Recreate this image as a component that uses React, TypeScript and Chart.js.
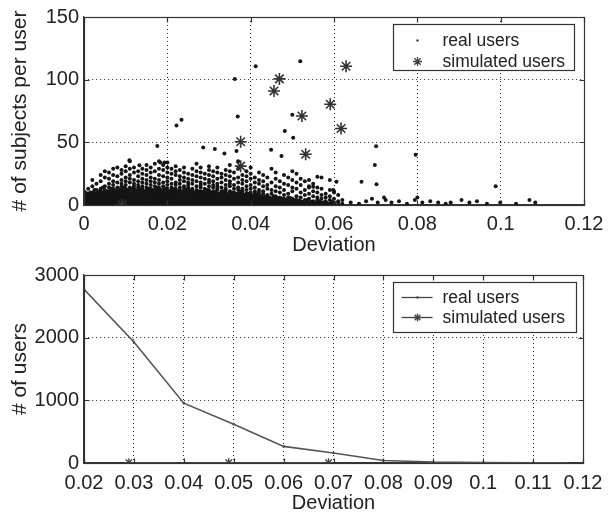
import React, { useEffect, useRef } from "react";
import { Chart, registerables } from "chart.js";

Chart.register(...registerables);

// ---------- Top chart data ----------
const topXTicks = [0, 0.02, 0.04, 0.06, 0.08, 0.1, 0.12];
const topYTicks = [0, 50, 100, 150];

// dense cloud of real users: [deviation, list of "# of subjects per user" values]
const realUsersColumns: [number, number[]][] = [
  [0.000, [0, 1, 2, 3, 4, 5, 6, 8, 11]],
  [0.001, [0, 1, 2, 3, 5, 6, 7, 9, 13]],
  [0.002, [0, 1, 3, 4, 5, 7, 8, 10, 15, 20]],
  [0.003, [0, 1, 2, 4, 5, 6, 8, 9, 12, 17]],
  [0.004, [0, 2, 3, 4, 6, 7, 9, 11, 13, 19, 24]],
  [0.005, [0, 1, 3, 4, 5, 7, 8, 10, 12, 15, 22, 27]],
  [0.006, [0, 1, 2, 4, 6, 7, 9, 11, 14, 17, 21, 26]],
  [0.007, [0, 2, 3, 5, 6, 8, 10, 12, 13, 16, 19, 24, 29]],
  [0.008, [0, 1, 3, 4, 6, 7, 9, 11, 14, 18, 23, 30]],
  [0.009, [0, 1, 2, 4, 5, 7, 8, 10, 12, 15, 17, 20, 25, 28]],
  [0.010, [0, 2, 3, 5, 6, 8, 9, 11, 13, 16, 19, 22, 27, 31]],
  [0.011, [0, 1, 3, 4, 6, 7, 9, 12, 14, 18, 21, 24, 29, 35]],
  [0.012, [0, 1, 2, 4, 5, 7, 10, 11, 13, 15, 17, 20, 26, 30]],
  [0.013, [0, 2, 3, 5, 6, 8, 9, 12, 14, 16, 19, 23, 27]],
  [0.014, [0, 1, 3, 4, 6, 7, 10, 11, 13, 15, 18, 21, 25, 29]],
  [0.015, [0, 1, 2, 4, 5, 8, 9, 12, 14, 17, 20, 24, 28, 32]],
  [0.016, [0, 2, 3, 5, 6, 7, 10, 11, 13, 16, 19, 22, 26, 30]],
  [0.017, [0, 1, 3, 4, 6, 8, 9, 12, 15, 18, 21, 27, 33]],
  [0.018, [0, 1, 2, 4, 5, 7, 8, 11, 13, 14, 17, 20, 24, 29, 35]],
  [0.019, [0, 2, 3, 5, 6, 8, 10, 12, 15, 18, 23, 28, 32]],
  [0.020, [0, 1, 3, 4, 6, 7, 9, 11, 13, 16, 19, 22, 26, 30, 34]],
  [0.021, [0, 1, 2, 4, 5, 7, 9, 10, 12, 14, 17, 21, 25, 29]],
  [0.022, [0, 2, 3, 5, 6, 8, 10, 11, 13, 16, 18, 24, 27, 31]],
  [0.023, [0, 1, 3, 4, 6, 7, 9, 12, 14, 17, 20, 23, 28]],
  [0.024, [0, 1, 2, 4, 5, 8, 9, 11, 13, 15, 19, 22, 26, 30]],
  [0.025, [0, 2, 3, 5, 6, 7, 10, 12, 14, 16, 18, 21, 25]],
  [0.026, [0, 1, 3, 4, 6, 8, 9, 11, 13, 17, 20, 24, 29]],
  [0.027, [0, 1, 2, 4, 5, 7, 8, 10, 12, 15, 19, 23, 27, 33]],
  [0.028, [0, 2, 3, 5, 6, 8, 10, 11, 14, 16, 18, 22, 26, 30]],
  [0.029, [0, 1, 3, 4, 6, 7, 9, 12, 13, 17, 21, 25]],
  [0.030, [0, 1, 2, 4, 5, 7, 9, 10, 12, 15, 18, 20, 24, 28, 31]],
  [0.031, [0, 2, 3, 5, 6, 8, 10, 11, 14, 16, 19, 23, 27]],
  [0.032, [0, 1, 3, 4, 6, 7, 9, 12, 13, 15, 17, 21, 26, 30]],
  [0.033, [0, 1, 2, 4, 5, 8, 9, 11, 14, 18, 22, 25]],
  [0.034, [0, 2, 3, 5, 6, 7, 10, 12, 13, 16, 20, 24, 28]],
  [0.035, [0, 1, 3, 4, 6, 8, 9, 11, 15, 17, 19, 23, 27, 32]],
  [0.036, [0, 1, 2, 4, 5, 7, 8, 10, 13, 16, 21, 26]],
  [0.037, [0, 2, 3, 5, 6, 8, 9, 12, 14, 18, 22, 29, 35]],
  [0.038, [0, 1, 3, 4, 6, 7, 10, 11, 13, 17, 20, 24]],
  [0.039, [0, 1, 2, 4, 5, 7, 9, 12, 15, 19, 23, 27]],
  [0.040, [0, 2, 3, 5, 6, 8, 10, 13, 16, 21, 25, 30]],
  [0.041, [0, 1, 3, 4, 6, 7, 9, 11, 14, 18, 22]],
  [0.042, [0, 1, 2, 4, 5, 8, 10, 12, 17, 20, 26]],
  [0.043, [0, 2, 3, 5, 6, 9, 11, 15, 19, 24]],
  [0.044, [0, 1, 3, 4, 7, 8, 13, 16, 22]],
  [0.045, [0, 1, 2, 4, 5, 9, 12, 18, 29]],
  [0.046, [0, 2, 3, 5, 7, 11, 15, 21, 26]],
  [0.047, [0, 1, 3, 4, 6, 10, 14, 19]],
  [0.048, [0, 1, 2, 5, 8, 12, 17, 24]],
  [0.049, [0, 2, 3, 6, 9, 16, 22]],
  [0.050, [0, 1, 3, 5, 11, 14, 20, 27]],
  [0.051, [0, 1, 2, 4, 7, 13, 18, 25]],
  [0.052, [0, 2, 3, 6, 10, 16, 21]],
  [0.053, [0, 1, 4, 8, 12, 19]],
  [0.054, [0, 1, 2, 5, 9, 15, 20]],
  [0.055, [0, 2, 3, 7, 11, 17]],
  [0.056, [0, 1, 4, 6, 10, 14]],
  [0.057, [0, 1, 2, 5, 8, 13, 22]],
  [0.058, [0, 2, 3, 6, 9]],
  [0.059, [0, 1, 4, 7, 12, 20]],
  [0.060, [0, 1, 2, 5, 10, 11]],
  [0.061, [0, 2, 3, 8]],
  [0.062, [0, 1, 4]],
];

// the nearly solid band of real users close to zero
const realUsersBand: [number, number[]][] = [
  [0.0005, [0.5, 2, 3.5, 5, 7, 9.5]],
  [0.0015, [0.5, 2.5, 4, 6, 8, 10]],
  [0.0025, [1, 2, 3.5, 5.5, 7, 9, 12]],
  [0.0035, [0.5, 2, 3.5, 5, 6.5, 8, 10.5]],
  [0.0045, [1, 2.5, 4, 5.5, 8, 10, 14]],
  [0.0055, [0.5, 2, 3.5, 6, 7.5, 9.5, 11]],
  [0.0065, [1, 2.5, 4, 5, 6.5, 8.5, 10, 13]],
  [0.0075, [0.5, 2, 3.5, 5.5, 7, 9, 11.5]],
  [0.0085, [1, 2.5, 4, 6, 8, 10, 12.5]],
  [0.0095, [0.5, 2, 3.5, 5, 6.5, 8.5, 11, 14]],
  [0.0105, [1, 2.5, 4, 5.5, 7.5, 9, 10.5, 12]],
  [0.0115, [0.5, 2, 3.5, 5, 6.5, 8, 10, 13]],
  [0.0125, [1, 2.5, 4, 6, 7.5, 9, 11.5]],
  [0.0135, [0.5, 2, 3.5, 5.5, 7, 8.5, 10.5, 12.5]],
  [0.0145, [1, 2.5, 4, 5, 6.5, 8, 9.5, 11]],
  [0.0155, [0.5, 2, 3.5, 5.5, 7, 9, 10.5, 13]],
  [0.0165, [1, 2.5, 4, 6, 7.5, 8.5, 10, 12]],
  [0.0175, [0.5, 2, 3.5, 5, 6.5, 8, 9.5, 11.5, 14]],
  [0.0185, [1, 2.5, 4, 5.5, 7, 9, 10.5, 12]],
  [0.0195, [0.5, 2, 3.5, 5, 6.5, 8, 10, 13]],
  [0.0205, [1, 2.5, 4, 6, 7.5, 9, 11]],
  [0.0215, [0.5, 2, 3.5, 5.5, 7, 8.5, 10, 12.5]],
  [0.0225, [1, 2.5, 4, 5, 6.5, 8, 9.5, 11]],
  [0.0235, [0.5, 2, 3.5, 5.5, 7, 9, 10.5]],
  [0.0245, [1, 2.5, 4, 6, 7.5, 8.5, 10, 12]],
  [0.0255, [0.5, 2, 3.5, 5, 6.5, 8, 9.5, 11.5]],
  [0.0265, [1, 2.5, 4, 5.5, 7, 8.5, 10]],
  [0.0275, [0.5, 2, 3.5, 5, 6.5, 8, 9.5, 11]],
  [0.0285, [1, 2.5, 4, 6, 7.5, 9, 10.5]],
  [0.0295, [0.5, 2, 3.5, 5.5, 7, 8, 9.5, 12]],
  [0.0305, [1, 2.5, 4, 5, 6.5, 8, 10]],
  [0.0315, [0.5, 2, 3.5, 5.5, 7, 8.5, 10.5]],
  [0.0325, [1, 2.5, 4, 6, 7.5, 9]],
  [0.0335, [0.5, 2, 3.5, 5, 6.5, 8, 9.5, 11]],
  [0.0345, [1, 2.5, 4, 5.5, 7, 8.5]],
  [0.0355, [0.5, 2, 3.5, 5, 6.5, 8, 10]],
  [0.0365, [1, 2.5, 4, 6, 7.5, 9]],
  [0.0375, [0.5, 2, 3.5, 5.5, 7, 8.5, 10.5]],
  [0.0385, [1, 2.5, 4, 5, 6.5, 8]],
  [0.0395, [0.5, 2, 3.5, 5.5, 7, 9]],
  [0.0405, [1, 2.5, 4, 6, 7.5]],
  [0.0415, [0.5, 2, 3.5, 5, 6.5, 8.5]],
  [0.0425, [1, 2.5, 4, 5.5, 7]],
  [0.0435, [0.5, 2, 3.5, 5, 6.5]],
  [0.0445, [1, 2.5, 4, 6]],
  [0.0455, [0.5, 2, 3.5, 5, 7]],
  [0.0465, [1, 2.5, 4, 5.5]],
  [0.0475, [0.5, 2, 3.5, 5]],
  [0.0485, [1, 2.5, 4]],
  [0.0495, [0.5, 2, 3.5, 5.5]],
  [0.0505, [1, 2.5, 4]],
  [0.0515, [0.5, 2, 3.5]],
  [0.0525, [1, 2.5]],
  [0.0535, [0.5, 2, 4]],
  [0.0545, [1, 2.5]],
  [0.0555, [0.5, 2]],
  [0.0565, [1, 3]],
  [0.0575, [0.5, 2]],
  [0.0585, [1]],
  [0.0595, [0.5, 2.5]],
];

// scattered real users (outliers and the long tail)
const realUsersSparse: [number, number][] = [
  [0.0109, 35.7], [0.0133, 31.7], [0.0176, 47], [0.0183, 34], [0.0193, 34],
  [0.0222, 63.5], [0.0234, 68], [0.0286, 45.8], [0.0314, 44.7], [0.0337, 41],
  [0.0362, 100.5], [0.0366, 43], [0.0369, 70.6], [0.0412, 110.7], [0.0449, 44],
  [0.0474, 39], [0.0482, 59], [0.05, 72], [0.0502, 53.7], [0.0519, 114.7],
  [0.054, 14], [0.055, 14.5], [0.056, 22.5], [0.0598, 12], [0.0606, 18.5],
  [0.0666, 18.5], [0.0698, 32], [0.0701, 46.8], [0.0702, 16.5], [0.0796, 40],
  [0.0988, 15],
  [0.0677, 3], [0.0691, 5], [0.0705, 2], [0.0724, 4], [0.0738, 2], [0.0756, 3],
  [0.0775, 1], [0.0794, 4], [0.0812, 2], [0.0831, 3], [0.085, 2], [0.0868, 1],
  [0.0906, 4], [0.0925, 2], [0.0943, 3], [0.0967, 1], [0.0999, 2], [0.1037, 1],
  [0.1069, 4], [0.1083, 2], [0.064, 2], [0.066, 1], [0.072, 6], [0.08, 6], [0.088, 2],
];

const simulatedUsersTop: [number, number][] = [
  [0.0091, 0], [0.0376, 31], [0.0376, 50.5], [0.0456, 91], [0.0469, 100.6],
  [0.0523, 71], [0.0532, 40.5], [0.0591, 80.4], [0.0617, 61], [0.0629, 110.7],
];

// ---------- Bottom chart data ----------
const bottomXTicks = [0.02, 0.03, 0.04, 0.05, 0.06, 0.07, 0.08, 0.09, 0.1, 0.11, 0.12];
const bottomYTicks = [0, 1000, 2000, 3000];

const histDeviation = [0.02, 0.03, 0.04, 0.05, 0.06, 0.07, 0.08, 0.09, 0.1, 0.11, 0.117];
const histRealUsers = [2770, 1930, 955, 620, 265, 160, 40, 15, 8, 3, 1];
const histSimulatedDeviation = [0.029, 0.049, 0.069];
const histSimulatedUsers = [5, 5, 5];

const FONT = "'Liberation Sans', Arial, Helvetica, sans-serif";
const INK = "#222";
const FRAME = "#333";

type LegendItem = { label: string; marker: "dot" | "star"; line: boolean };

function drawStar(ctx: CanvasRenderingContext2D, x: number, y: number, r: number) {
  const d = r * Math.SQRT1_2;
  ctx.beginPath();
  ctx.moveTo(x - r, y); ctx.lineTo(x + r, y);
  ctx.moveTo(x, y - r); ctx.lineTo(x, y + r);
  ctx.moveTo(x - d, y - d); ctx.lineTo(x + d, y + d);
  ctx.moveTo(x - d, y + d); ctx.lineTo(x + d, y - d);
  ctx.stroke();
}

function makeFramePlugin(id: string) {
  return {
    id,
    afterDatasetsDraw(chart: any) {
      const { ctx, chartArea: a, scales } = chart;
      ctx.save();
      ctx.strokeStyle = FRAME;
      ctx.lineWidth = 1.2;
      const L = Math.round(a.left) + 0.5;
      const T = Math.round(a.top) + 0.5;
      const R = Math.round(a.right) + 0.5;
      const B = Math.round(a.bottom) + 0.5;
      ctx.strokeRect(L, T, R - L, B - T);
      const tl = 5;
      ctx.beginPath();
      for (const t of scales.x.ticks) {
        const px = Math.round(scales.x.getPixelForValue(t.value)) + 0.5;
        ctx.moveTo(px, T); ctx.lineTo(px, T + tl);
        ctx.moveTo(px, B); ctx.lineTo(px, B - tl);
      }
      for (const t of scales.y.ticks) {
        const py = Math.round(scales.y.getPixelForValue(t.value)) + 0.5;
        ctx.moveTo(L, py); ctx.lineTo(L + tl, py);
        ctx.moveTo(R, py); ctx.lineTo(R - tl, py);
      }
      ctx.stroke();
      ctx.restore();
    },
  };
}

function makeLegendPlugin(id: string, items: LegendItem[], box: { rightGap: number; topGap: number; w: number; h: number; rows: number[] }, starR: number) {
  return {
    id,
    afterDraw(chart: any) {
      const { ctx, chartArea: a } = chart;
      const left = Math.round(a.right - box.rightGap - box.w) + 0.5;
      const top = Math.round(a.top + box.topGap) + 0.5;
      ctx.save();
      ctx.fillStyle = "#fff";
      ctx.fillRect(left, top, box.w, box.h);
      ctx.strokeStyle = FRAME;
      ctx.lineWidth = 1.2;
      ctx.strokeRect(left, top, box.w, box.h);
      ctx.font = `17.5px ${FONT}`;
      ctx.textBaseline = "middle";
      ctx.textAlign = "left";
      items.forEach((it, i) => {
        const y = top + box.rows[i];
        const mx = left + 24;
        ctx.strokeStyle = "#444";
        ctx.fillStyle = "#444";
        ctx.lineWidth = 1.3;
        if (it.line) {
          ctx.beginPath();
          ctx.moveTo(left + 8, y);
          ctx.lineTo(left + 39, y);
          ctx.stroke();
        }
        if (it.marker === "dot") {
          ctx.beginPath();
          ctx.arc(mx, y, 1.2, 0, Math.PI * 2);
          ctx.fill();
        } else {
          drawStar(ctx, mx, y, starR);
        }
        ctx.fillStyle = INK;
        ctx.fillText(it.label, left + 49, y + 1);
      });
      ctx.restore();
    },
  };
}

function axisCommon() {
  return {
    grid: { color: "#222", lineWidth: 1, drawTicks: false },
    border: { display: true, color: FRAME, width: 1.2, dash: [1, 3] },
  };
}

function fmt(v: any) {
  return String(+Number(v).toFixed(2));
}

function buildTop(canvas: HTMLCanvasElement) {
  const toPoints = (cols: [number, number[]][]) => cols.flatMap(([x, ys]) => ys.map((y) => ({ x, y })));
  const realPoints = toPoints(realUsersColumns)
    .concat(toPoints(realUsersBand))
    .concat(realUsersSparse.map(([x, y]) => ({ x, y })));
  const simPoints = simulatedUsersTop.map(([x, y]) => ({ x, y }));
  return new Chart(canvas, {
    type: "scatter",
    data: {
      datasets: [
        {
          label: "real users",
          data: realPoints,
          pointStyle: "circle",
          pointRadius: 2,
          pointBorderWidth: 0,
          backgroundColor: "#151515",
          borderColor: "#151515",
          order: 2,
        },
        {
          label: "simulated users",
          data: simPoints,
          pointStyle: "star",
          pointRadius: 6,
          pointBorderWidth: 1.6,
          borderColor: "#333",
          backgroundColor: "#333",
          order: 1,
        },
      ],
    },
    options: {
      responsive: false,
      animation: false,
      events: [],
      layout: { padding: { top: 16, right: 30, left: 0, bottom: 0 } },
      plugins: { legend: { display: false }, tooltip: { enabled: false } },
      scales: {
        x: {
          type: "linear",
          min: 0,
          max: 0.12,
          ...axisCommon(),
          afterBuildTicks: (s: any) => { s.ticks = topXTicks.map((value) => ({ value })); },
          afterFit: (s: any) => { s.height = 53; },
          ticks: { autoSkip: false, maxRotation: 0, padding: 7, color: INK, font: { size: 20, family: FONT }, callback: fmt },
          title: { display: true, text: "Deviation", color: INK, font: { size: 20, family: FONT }, padding: { top: 0, bottom: 1 } },
        },
        y: {
          type: "linear",
          min: 0,
          max: 150,
          ...axisCommon(),
          afterBuildTicks: (s: any) => { s.ticks = topYTicks.map((value) => ({ value })); },
          afterFit: (s: any) => { s.width = 84; },
          ticks: { autoSkip: false, padding: 5, color: INK, font: { size: 20, family: FONT }, callback: fmt },
          title: { display: true, text: "# of subjects per user", color: INK, font: { size: 21, family: FONT }, padding: { top: 7.4, bottom: 0 } },
        },
      },
    },
    plugins: [
      makeFramePlugin("frameTop"),
      makeLegendPlugin(
        "legendTop",
        [
          { label: "real users", marker: "dot", line: false },
          { label: "simulated users", marker: "star", line: false },
        ],
        { rightGap: 10, topGap: 7, w: 181, h: 46, rows: [16, 37] },
        4.5
      ),
    ],
  } as any);
}

function buildBottom(canvas: HTMLCanvasElement) {
  const realPoints = histDeviation.map((x, i) => ({ x, y: histRealUsers[i] }));
  const simPoints = histSimulatedDeviation.map((x, i) => ({ x, y: histSimulatedUsers[i] }));
  return new Chart(canvas, {
    type: "scatter",
    data: {
      datasets: [
        {
          label: "real users",
          data: realPoints,
          showLine: true,
          borderColor: "#555",
          borderWidth: 1.6,
          pointStyle: "circle",
          pointRadius: 1.3,
          pointBorderWidth: 0,
          backgroundColor: "#555",
          order: 2,
        },
        {
          label: "simulated users",
          data: simPoints,
          showLine: true,
          borderColor: "#444",
          borderWidth: 1.2,
          pointStyle: "star",
          pointRadius: 4.5,
          pointBorderWidth: 1.4,
          backgroundColor: "#444",
          order: 1,
        },
      ],
    },
    options: {
      responsive: false,
      animation: false,
      events: [],
      layout: { padding: { top: 17, right: 31, left: 0, bottom: 0 } },
      plugins: { legend: { display: false }, tooltip: { enabled: false } },
      scales: {
        x: {
          type: "linear",
          min: 0.02,
          max: 0.12,
          ...axisCommon(),
          afterBuildTicks: (s: any) => { s.ticks = bottomXTicks.map((value) => ({ value })); },
          afterFit: (s: any) => { s.height = 52; },
          ticks: { autoSkip: false, maxRotation: 0, padding: 8, color: INK, font: { size: 20, family: FONT }, callback: fmt },
          title: { display: true, text: "Deviation", color: INK, font: { size: 20, family: FONT }, padding: { top: 0, bottom: 0 } },
        },
        y: {
          type: "linear",
          min: 0,
          max: 3000,
          ...axisCommon(),
          afterBuildTicks: (s: any) => { s.ticks = bottomYTicks.map((value) => ({ value })); },
          afterFit: (s: any) => { s.width = 84; },
          ticks: { autoSkip: false, padding: 5, color: INK, font: { size: 20, family: FONT }, callback: fmt },
          title: { display: true, text: "# of users", color: INK, font: { size: 21, family: FONT }, padding: { top: 7.4, bottom: 0 } },
        },
      },
    },
    plugins: [
      makeFramePlugin("frameBottom"),
      makeLegendPlugin(
        "legendBottom",
        [
          { label: "real users", marker: "dot", line: true },
          { label: "simulated users", marker: "star", line: true },
        ],
        { rightGap: 7, topGap: 7, w: 183, h: 50, rows: [15, 35] },
        4
      ),
    ],
  } as any);
}

export default function App() {
  const topRef = useRef<HTMLCanvasElement | null>(null);
  const bottomRef = useRef<HTMLCanvasElement | null>(null);

  useEffect(() => {
    const c1 = buildTop(topRef.current!);
    const c2 = buildBottom(bottomRef.current!);
    return () => {
      c1.destroy();
      c2.destroy();
    };
  }, []);

  return (
    <div style={{ position: "absolute", left: 0, top: 0, width: 614, height: 515, background: "#fff" }}>
      <canvas ref={topRef} width={614} height={258} style={{ position: "absolute", left: 0, top: 0, display: "block" }} />
      <canvas ref={bottomRef} width={614} height={257} style={{ position: "absolute", left: 0, top: 258, display: "block" }} />
    </div>
  );
}
